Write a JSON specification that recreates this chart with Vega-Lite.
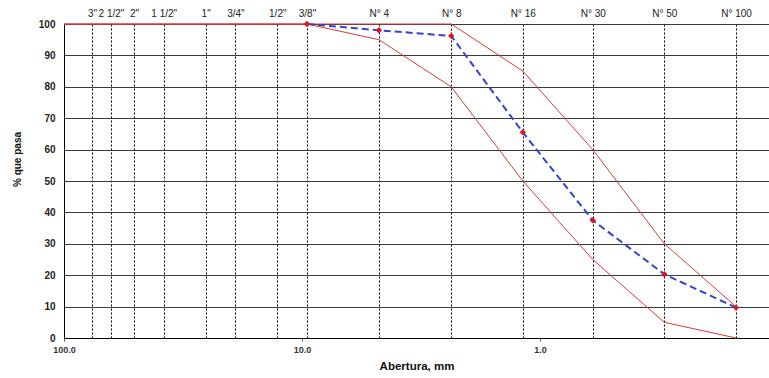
{
  "$schema": "https://vega.github.io/schema/vega-lite/v6.json",
  "autosize": "none",
  "width": 705,
  "height": 314,
  "padding": {"left": 64, "top": 24, "right": 0, "bottom": 40},
  "background": "white",
  "config": {
    "view": {"stroke": null},
    "font": "Liberation Sans",
    "axisY": {
      "values": [0, 10, 20, 30, 40, 50, 60, 70, 80, 90, 100],
      "grid": true,
      "gridColor": "#3a3a3a",
      "gridWidth": 1,
      "domain": true,
      "domainColor": "#000000",
      "ticks": false,
      "labelFont": "Liberation Sans",
      "labelFontWeight": "bold",
      "labelFontSize": 10,
      "labelColor": "#222222",
      "labelPadding": 9,
      "titleFont": "Liberation Sans",
      "titleFontWeight": "bold",
      "titleFontSize": 10,
      "titleColor": "#111111",
      "titlePadding": 16,
      "titleY": 135
    }
  },
  "datasets": {
    "limites": [
      {"abertura": 100, "pct": 100, "serie": "sup"},
      {"abertura": 9.525, "pct": 100, "serie": "sup"},
      {"abertura": 4.75, "pct": 100, "serie": "sup"},
      {"abertura": 2.36, "pct": 100, "serie": "sup"},
      {"abertura": 1.18, "pct": 85, "serie": "sup"},
      {"abertura": 0.6, "pct": 60, "serie": "sup"},
      {"abertura": 0.3, "pct": 30, "serie": "sup"},
      {"abertura": 0.15, "pct": 10, "serie": "sup"},
      {"abertura": 100, "pct": 100, "serie": "inf"},
      {"abertura": 9.525, "pct": 100, "serie": "inf"},
      {"abertura": 4.75, "pct": 95, "serie": "inf"},
      {"abertura": 2.36, "pct": 80, "serie": "inf"},
      {"abertura": 1.18, "pct": 50, "serie": "inf"},
      {"abertura": 0.6, "pct": 25, "serie": "inf"},
      {"abertura": 0.3, "pct": 5, "serie": "inf"},
      {"abertura": 0.15, "pct": 0, "serie": "inf"}
    ],
    "muestra": [
      {"abertura": 9.525, "pct": 100},
      {"abertura": 4.75, "pct": 98},
      {"abertura": 2.36, "pct": 96.2},
      {"abertura": 1.18, "pct": 65.5},
      {"abertura": 0.6, "pct": 37.5},
      {"abertura": 0.3, "pct": 20.3},
      {"abertura": 0.15, "pct": 9.7}
    ]
  },
  "layer": [
    {
      "data": {"name": "limites"},
      "mark": {"type": "line", "color": "#d63a3a", "strokeWidth": 1},
      "encoding": {
        "x": {
          "field": "abertura", "type": "quantitative",
          "scale": {"type": "log", "domain": [100, 0.109], "nice": false, "zero": false},
          "axis": {
            "orient": "bottom",
            "values": [100, 10, 1],
            "labelExpr": "format(datum.value, '.1f')",
            "labelFlush": false,
            "labelFont": "Liberation Sans",
            "labelFontWeight": "bold",
            "labelFontSize": 9,
            "labelColor": "#333333",
            "labelPadding": 4,
            "grid": false,
            "domain": true,
            "domainColor": "#000000",
            "domainWidth": 1,
            "ticks": true,
            "tickSize": 3,
            "tickColor": "#555555",
            "title": "Abertura, mm",
            "titleFont": "Liberation Sans",
            "titleFontWeight": "bold",
            "titleFontSize": 11.5,
            "titleColor": "#111111",
            "titlePadding": 6
          }
        },
        "y": {
          "field": "pct", "type": "quantitative",
          "scale": {"domain": [0, 100], "nice": false},
          "axis": {"title": "% que pasa"}
        },
        "detail": {"field": "serie"}
      }
    },
    {
      "data": {"name": "muestra"},
      "mark": {
        "type": "line", "color": "#3344cc", "strokeWidth": 2, "strokeDash": [7, 4],
        "point": {"shape": "diamond", "filled": true, "color": "#e0141e", "size": 40, "opacity": 1, "strokeDash": [1, 0]}
      },
      "encoding": {
        "x": {
          "field": "abertura", "type": "quantitative",
          "scale": {"type": "log", "domain": [100, 0.109], "nice": false, "zero": false},
          "axis": {
            "orient": "top",
            "values": [76.2, 63.5, 50.8, 38.1, 25.4, 19.05, 12.7, 9.525, 4.75, 2.36, 1.18, 0.6, 0.3, 0.15],
            "labelExpr": "['3\"','2 1/2\"','2\"','1 1/2\"','1\"','3/4\"','1/2\"','3/8\"','N° 4','N° 8','N° 16','N° 30','N° 50','N° 100'][indexof([76.2, 63.5, 50.8, 38.1, 25.4, 19.05, 12.7, 9.525, 4.75, 2.36, 1.18, 0.6, 0.3, 0.15], datum.value)]",
            "labelFlush": false,
            "labelOverlap": false,
            "labelFont": "Liberation Sans",
            "labelFontSize": 10,
            "labelColor": "#222222",
            "labelPadding": 6,
            "grid": true,
            "gridColor": "#000000",
            "gridWidth": 1,
            "gridDash": [2, 2],
            "domain": false,
            "ticks": false,
            "title": null
          }
        },
        "y": {
          "field": "pct", "type": "quantitative",
          "scale": {"domain": [0, 100], "nice": false},
          "axis": {"title": "% que pasa"}
        }
      }
    }
  ],
  "resolve": {"axis": {"x": "independent"}}
}
